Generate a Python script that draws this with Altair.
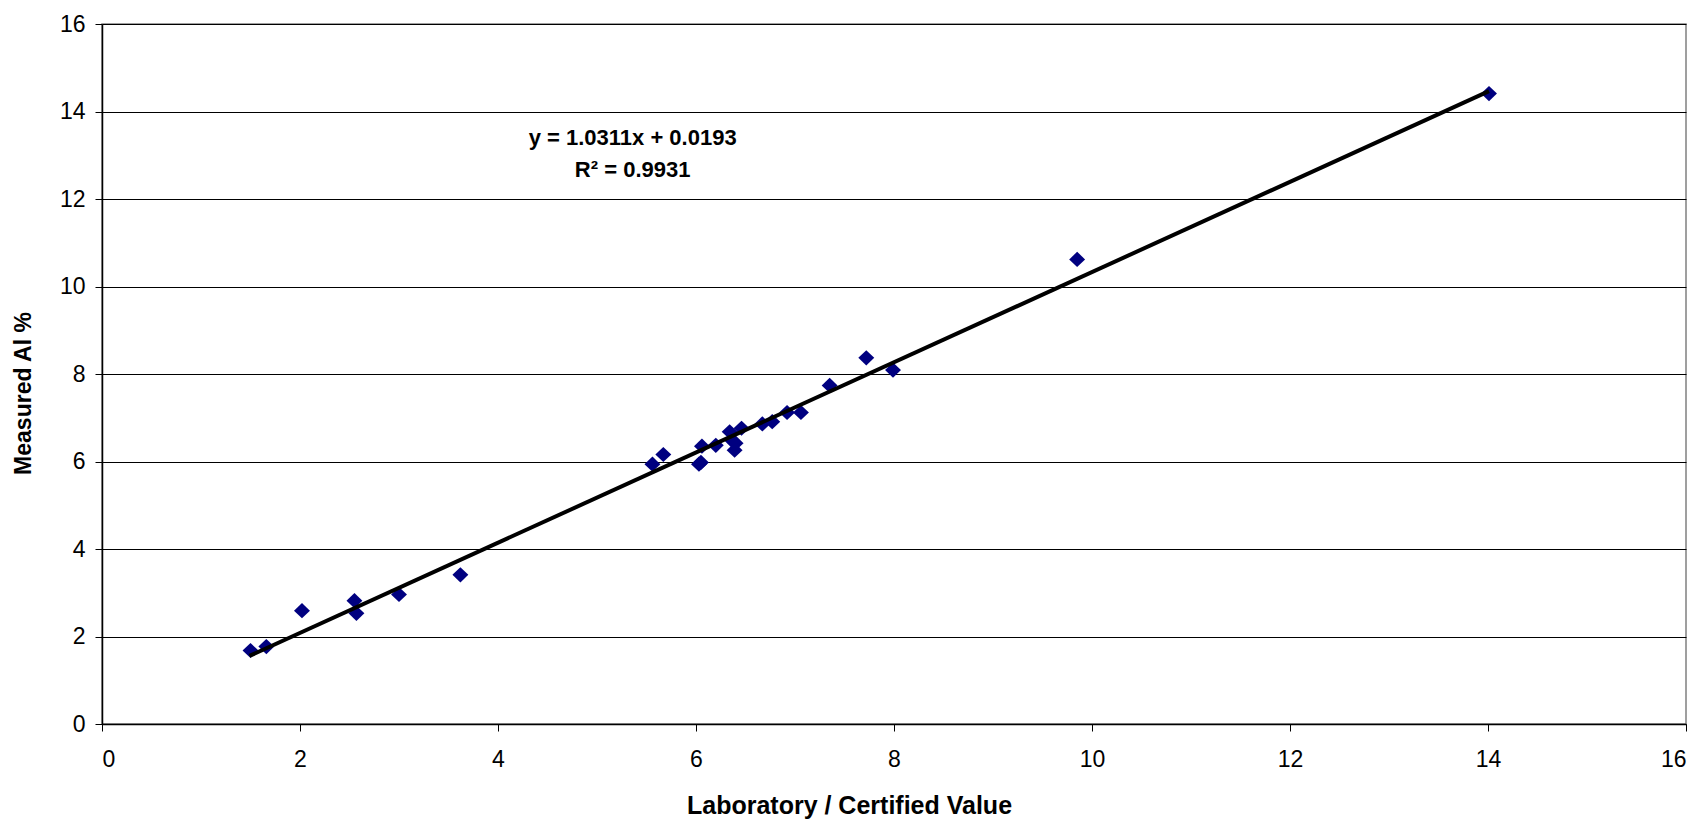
import altair as alt
import pandas as pd

lab_values = [1.50, 1.66, 2.02, 2.55, 2.57, 3.00, 3.62, 5.56, 5.67, 6.03, 6.05, 6.06, 6.20,
              6.34, 6.36, 6.39, 6.40, 6.46, 6.67, 6.77, 6.92, 7.06, 7.35, 7.72, 7.99, 9.85, 14.01]
measured = [1.68, 1.77, 2.59, 2.82, 2.53, 2.96, 3.41, 5.94, 6.16, 5.94, 5.98, 6.35, 6.37,
            6.68, 6.49, 6.26, 6.42, 6.76, 6.86, 6.91, 7.12, 7.12, 7.74, 8.37, 8.09, 10.62, 14.41]

slope = 1.0311
intercept = 0.0193
fit_range = [1.49, 14.01]
eq_lines = ["y = 1.0311x + 0.0193", "R² = 0.9931"]
eq_x = [5.36, 5.36]
eq_y = [13.39, 12.66]

pts = pd.DataFrame({"x": lab_values, "y": measured})
fit = pd.DataFrame({"x": fit_range, "y": [slope * v + intercept for v in fit_range]})
eq = pd.DataFrame({"x": eq_x, "y": eq_y, "t": eq_lines})

FONT = "Liberation Sans"

xscale = alt.Scale(domain=[0, 16], nice=False, zero=False)
yscale = alt.Scale(domain=[0, 16], nice=False, zero=False)

xaxis = alt.Axis(values=list(range(0, 17, 2)), format="d", grid=False,
                 title="Laboratory / Certified Value",
                 labelFont=FONT, labelFontSize=23, labelColor="black", labelPadding=17,
                 titleFont=FONT, titleFontSize=25, titleFontWeight="bold", titleColor="black",
                 titlePadding=22, titleX=747, titleAnchor="middle",
                 tickColor="black", tickSize=7, domainColor="black", domainWidth=1.5)
yaxis = alt.Axis(values=list(range(0, 17, 2)), format="d", grid=True, gridColor="black", gridWidth=1,
                 title="Measured Al %", labelFont=FONT, labelFontSize=23, labelColor="black",
                 labelPadding=10, titleFont=FONT, titleFontSize=23, titleFontWeight="bold",
                 titleColor="black", titlePadding=24, titleY=369, titleAnchor="middle",
                 tickColor="black", tickSize=7,
                 domainColor="black", domainWidth=1.5)

points = alt.Chart(pts).mark_point(
    shape="M0,-1L1.05,0L0,1L-1.05,0Z", filled=True, color="#000080", opacity=1, size=230
).encode(x=alt.X("x:Q", scale=xscale, axis=xaxis), y=alt.Y("y:Q", scale=yscale, axis=yaxis))

line = alt.Chart(fit).mark_line(color="black", strokeWidth=4).encode(
    x=alt.X("x:Q", scale=xscale), y=alt.Y("y:Q", scale=yscale))

text = alt.Chart(eq).mark_text(font=FONT, fontSize=22, fontWeight="bold", color="black",
                               align="center", baseline="middle").encode(
    x=alt.X("x:Q", scale=xscale), y=alt.Y("y:Q", scale=yscale), text="t:N")

chart = alt.layer(points, line, text).properties(
    width=1584, height=700,
    autosize=alt.AutoSizeParams(type="none"),
    padding={"left": 94, "top": 16, "right": 8, "bottom": 100},
    background="white",
).configure_view(stroke="#808080", strokeWidth=1.5)

chart.save("out.html", embed_options={"renderer": "svg", "actions": False})
